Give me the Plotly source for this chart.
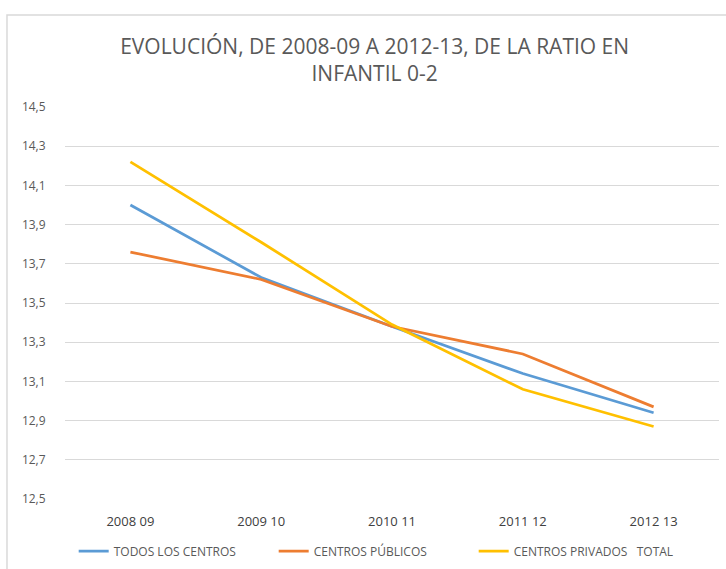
"""
Evolución de la ratio en Infantil 0-2 (2008-09 a 2012-13)
"""
import plotly.graph_objects as go

# datos
cursos = ['2008 09', '2009 10', '2010 11', '2011 12', '2012 13']
todos_los_centros = [14.00, 13.63, 13.38, 13.14, 12.94]
centros_publicos = [13.76, 13.62, 13.38, 13.24, 12.97]
centros_privados = [14.22, 13.81, 13.39, 13.06, 12.87]
y_ticks = [12.5, 12.7, 12.9, 13.1, 13.3, 13.5, 13.7, 13.9, 14.1, 14.3, 14.5]

FONT = "Liberation Sans Narrow, Arial Narrow, Open Sans, sans-serif"
GRIS = '#595959'

series = [
    ('TODOS LOS CENTROS', todos_los_centros, '#5B9BD5'),
    ('CENTROS PÚBLICOS', centros_publicos, '#ED7D31'),
    ('CENTROS PRIVADOS\u00a0\u00a0\u00a0TOTAL', centros_privados, '#FFC000'),
]

fig = go.Figure()
for nombre, valores, color in series:
    fig.add_trace(go.Scatter(
        x=cursos, y=valores, name=nombre, mode='lines',
        line=dict(color=color, width=2.75),
    ))

fig.update_layout(
    width=726, height=569,
    margin=dict(l=65, r=7, t=107, b=70, autoexpand=False),
    paper_bgcolor='white', plot_bgcolor='white',
    separators=',.',
    font=dict(family=FONT, color=GRIS, size=12),
    title=dict(
        text='EVOLUCIÓN, DE 2008-09 A 2012-13, DE LA RATIO EN<br>INFANTIL 0-2',
        x=0.516, xanchor='center', y=0.905, yanchor='middle',
        font=dict(family=FONT, size=21, color=GRIS),
    ),
    legend=dict(
        orientation='h', x=0.472, xanchor='center', y=-0.133, yanchor='middle',
        font=dict(family=FONT, size=12, color=GRIS),
        itemwidth=30, entrywidth=155, entrywidthmode='pixels',
    ),
    showlegend=True,
)

fig.update_xaxes(
    type='category', range=[-0.5, 4.5], automargin=False,
    showgrid=False, showline=False, zeroline=False,
    ticks='outside', ticklen=10, tickcolor='rgba(0,0,0,0)',
    tickfont=dict(family=FONT, size=13, color='#404040'),
)
fig.update_yaxes(
    range=[12.5, 14.5], tickvals=y_ticks, tickformat='.1f', automargin=False,
    showgrid=True, gridcolor='#D9D9D9', gridwidth=1,
    showline=False, zeroline=False,
    ticks='outside', ticklen=16, tickcolor='rgba(0,0,0,0)',
    tickfont=dict(family=FONT, size=12, color=GRIS),
)

# borde del área del gráfico
fig.add_shape(
    type='rect', xref='paper', yref='paper',
    x0=-0.0887, x1=1.1, y0=-0.35, y1=1.235,
    line=dict(color='#D9D9D9', width=1.5), fillcolor='rgba(0,0,0,0)',
    layer='below',
)

# sin margen del body para que la figura ocupe la ventana completa
fig.write_html(
    "out.html",
    config={'displayModeBar': False},
    post_script="document.body.style.margin='0';",
)
